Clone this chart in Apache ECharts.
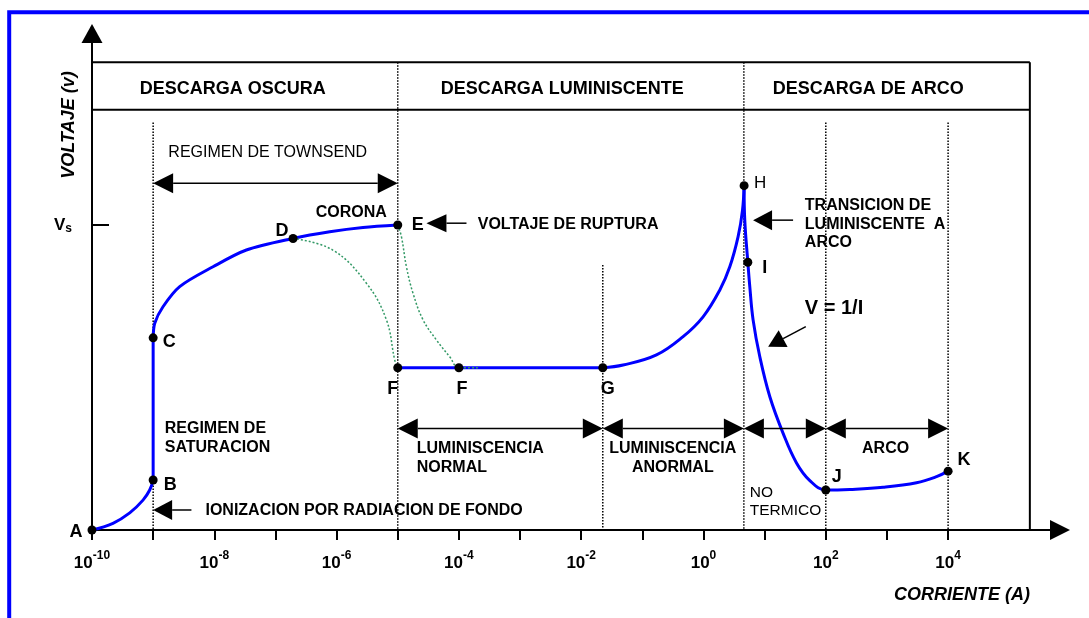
<!DOCTYPE html>
<html><head><meta charset="utf-8">
<script src="https://cdn.jsdelivr.net/npm/echarts@6/dist/echarts.min.js"></script>
<style>html,body{margin:0;padding:0;background:#fff}#c{width:1089px;height:618px}</style>
</head><body><div id="c"></div>
<script>
// ---------- DATA (x = log10 of current in A, y = voltage relative to Vs) ----------
const tickExponents = [-10,-9,-8,-7,-6,-5,-4,-3,-2,-1,0,1,2,3,4];
const labelExponents = [-10,-8,-6,-4,-2,0,2,4];
const vsLevel = [1];

const pointNames = ['A','B','C','D','E','F','F','G','H','I','J','K'];
const pointExp   = [-10, -9, -9, -6.712, -5, -5, -4, -1.647, 0.664, 0.725, 2, 4];
const pointV     = [0, 0.164, 0.630, 0.956, 1.0, 0.532, 0.532, 0.532, 1.129, 0.878, 0.131, 0.193];

const abExp = [-10, -9.657, -9.383, -9.166, -9.056, -9.0];
const abV   = [0, 0.022, 0.056, 0.098, 0.131, 0.164];
const bcExp = [-9, -9];
const bcV   = [0.164, 0.630];
const ceExp = [-9.0, -8.974, -8.839, -8.566, -8.021, -7.475, -6.712, -6.112, -5.568, -5.0];
const ceV   = [0.630, 0.678, 0.732, 0.798, 0.863, 0.918, 0.956, 0.978, 0.992, 1.0];
const fgExp = [-5, -1.647];
const fgV   = [0.532, 0.532];
const ghExp = [-1.647, -1.315, -0.769, -0.334, -0.007, 0.267, 0.43, 0.566, 0.638, 0.664];
const ghV   = [0.532, 0.541, 0.574, 0.634, 0.699, 0.787, 0.863, 0.962, 1.049, 1.129];
const hkExp = [0.664, 0.675, 0.725, 0.757, 0.811, 0.921, 1.085, 1.302, 1.521, 1.739, 2.0, 2.393, 2.937, 3.484, 3.811, 4.0];
const hkV   = [1.129, 1.016, 0.878, 0.798, 0.689, 0.568, 0.437, 0.317, 0.220, 0.162, 0.131, 0.133, 0.140, 0.155, 0.175, 0.193];

const green1Exp = [-6.712, -6.063, -5.512, -5.185, -5.049, -5.0];
const green1V   = [0.956, 0.918, 0.809, 0.689, 0.557, 0.532];
const green2Exp = [-5.0, -4.94, -4.858, -4.75, -4.586, -4.367, -4.15, -4.0, -3.69];
const green2V   = [1.0, 0.962, 0.863, 0.776, 0.689, 0.623, 0.568, 0.532, 0.532];

// ---------- ANNOTATION ANCHORS (in data space) ----------
const guideLines = [ // x1,y1,x2,y2,dotted
  [-10, 1.534, 5.337, 1.534, 0],
  [-10, 1.378, 5.337, 1.378, 0],
  [5.337, 1.534, 5.337, 0, 0],
  [-9, 1.336, -9, 0, 1],
  [-5, 1.534, -5, 0, 1],
  [-1.647, 0.869, -1.647, 0, 1],
  [0.66, 1.534, 0.66, 0, 1],
  [2, 1.336, 2, 0, 1],
  [4, 1.336, 4, 0, 1]
];
const arrowDefs = [ // x1,y1,x2,y2, headStart, headEnd, headLen, headWidth
  [-9, 1.137, -5, 1.137, 1, 1, 20, 20],
  [-5, 0.333, -1.647, 0.333, 1, 1, 20, 20],
  [-1.647, 0.333, 0.66, 0.333, 1, 1, 20, 20],
  [0.66, 0.333, 2, 0.333, 1, 1, 20, 20],
  [2, 0.333, 4, 0.333, 1, 1, 20, 20],
  [-3.876, 1.006, -4.531, 1.006, 0, 1, 20, 18],
  [-8.374, 0.0656, -9.0, 0.0656, 0, 1, 19, 20],
  [1.465, 1.016, 0.811, 1.016, 0, 1, 19, 20],
  [1.673, 0.667, 1.057, 0.601, 0, 1, 17, 19]
];
const FF = '"Liberation Sans", Arial, sans-serif';
const B16 = 'bold 16px ' + FF, B18 = 'bold 18px ' + FF, B20 = 'bold 20px ' + FF;
const N16 = '16px ' + FF, N15 = '15.5px ' + FF;
const notes = [
  ['DESCARGA OSCURA', -7.699, 1.446, B18, 'center', 20],
  ['DESCARGA LUMINISCENTE', -2.31, 1.446, B18, 'center', 20],
  ['DESCARGA DE ARCO', 2.695, 1.446, B18, 'center', 20],
  ['REGIMEN DE TOWNSEND', -7.126, 1.238, N16, 'center', 18],
  ['CORONA', -6.341, 1.041, B16, 'left', 18],
  ['VOLTAJE DE RUPTURA', -3.692, 1.003, B16, 'left', 18],
  ['REGIMEN DE\nSATURACION', -8.811, 0.301, B16, 'left', 18.5],
  ['IONIZACION POR RADIACION DE FONDO', -8.145, 0.0623, B16, 'left', 18],
  ['LUMINISCENCIA\nNORMAL', -4.689, 0.236, B16, 'left', 19],
  ['LUMINISCENCIA\nANORMAL', -0.502, 0.236, B16, 'center', 19],
  ['ARCO', 2.978, 0.266, B16, 'center', 18],
  ['NO\nTERMICO', 0.757, 0.092, N15, 'left', 17.5],
  ['TRANSICION DE\nLUMINISCENTE  A\nARCO', 1.657, 1.003, B16, 'left', 18.5],
  ['V = 1/I', 1.657, 0.726, B20, 'left', 22]
];
const pointLabelOffset = [[-16,2],[17,5],[16,4],[-11,-7],[20,0],[-5,21],[3,21],[5,21],[16,-2],[17,6],[11,-13],[16,-11]];

// ---------- BUILD ----------
const zip = (xs, ys) => xs.map((x, i) => [x, ys[i]]);
const BLUE = '#0000ff';
function curve(xs, ys, smooth) {
  return { type: 'line', data: zip(xs, ys), showSymbol: false, smooth: smooth, silent: true,
    lineStyle: { color: BLUE, width: 3, cap: 'round', join: 'round' }, z: 3 };
}
function greenCurve(xs, ys) {
  return { type: 'line', data: zip(xs, ys), showSymbol: false, smooth: 0.4, silent: true,
    lineStyle: { color: '#339966', width: 1.5, type: [2, 2] }, z: 4 };
}
function renderGuide(params, api) {
  const a = api.coord([api.value(0), api.value(1)]);
  const b = api.coord([api.value(2), api.value(3)]);
  const dotted = api.value(4) === 1;
  return { type: 'line', shape: { x1: a[0], y1: a[1], x2: b[0], y2: b[1] },
    style: { stroke: '#000', lineWidth: dotted ? 1.5 : 2, lineDash: dotted ? [1.5, 1.5] : null } };
}
function renderArrow(params, api) {
  const a = api.coord([api.value(0), api.value(1)]);
  const b = api.coord([api.value(2), api.value(3)]);
  const hs = api.value(4), he = api.value(5), hl = api.value(6), hw = api.value(7);
  const dx = b[0] - a[0], dy = b[1] - a[1], len = Math.hypot(dx, dy);
  const ux = dx / len, uy = dy / len, px = -uy, py = ux;
  const s = hs ? [a[0] + ux * hl, a[1] + uy * hl] : a;
  const e = he ? [b[0] - ux * hl, b[1] - uy * hl] : b;
  const children = [{ type: 'line', shape: { x1: s[0], y1: s[1], x2: e[0], y2: e[1] },
    style: { stroke: '#000', lineWidth: 1.5 } }];
  function head(tip, dirx, diry) {
    const bx = tip[0] - dirx * hl, by = tip[1] - diry * hl;
    return { type: 'polygon', shape: { points: [tip, [bx + px * hw / 2, by + py * hw / 2], [bx - px * hw / 2, by - py * hw / 2]] },
      style: { fill: '#000' } };
  }
  if (hs) children.push(head(a, -ux, -uy));
  if (he) children.push(head(b, ux, uy));
  return { type: 'group', children: children };
}
function renderNote(params, api) {
  const n = notes[params.dataIndex];
  const p = api.coord([api.value(0), api.value(1)]);
  return { type: 'text', x: p[0], y: p[1],
    style: { text: n[0], font: n[3], fill: '#000', align: n[4], verticalAlign: 'middle', lineHeight: n[5] } };
}

const chart = echarts.init(document.getElementById('c'), null, { renderer: 'canvas' });
const option = {
  animation: false,
  backgroundColor: '#fff',
  grid: { left: 92, right: 29, top: 33.5, bottom: 88, containLabel: false },
  xAxis: {
    type: 'value', min: -10, max: 5.83, interval: 1,
    splitLine: { show: false },
    axisLine: { onZero: false, symbol: ['none', 'triangle'], symbolSize: [20, 20], lineStyle: { color: '#000', width: 2 } },
    axisTick: { customValues: tickExponents, length: 10, lineStyle: { color: '#000', width: 2 } },
    axisLabel: {
      customValues: labelExponents, margin: 20,
      formatter: v => '{b|10}{s|' + v + '}',
      rich: {
        b: { fontSize: 17, fontWeight: 'bold', fontFamily: FF, color: '#000', lineHeight: 26 },
        s: { fontSize: 12, fontWeight: 'bold', fontFamily: FF, color: '#000', lineHeight: 12, verticalAlign: 'top' }
      }
    }
  },
  yAxis: {
    type: 'value', min: 0, max: 1.628,
    splitLine: { show: false },
    axisLine: { onZero: false, symbol: ['none', 'triangle'], symbolSize: [21, 19], lineStyle: { color: '#000', width: 2 } },
    axisTick: { customValues: vsLevel, inside: true, length: 17, lineStyle: { color: '#000', width: 2 } },
    axisLabel: {
      customValues: vsLevel, margin: 20,
      formatter: () => '{v|V}{s|s}',
      rich: {
        v: { fontSize: 17, fontWeight: 'bold', fontFamily: FF, color: '#000', lineHeight: 20 },
        s: { fontSize: 12, fontWeight: 'bold', fontFamily: FF, color: '#000', lineHeight: 12, verticalAlign: 'bottom' }
      }
    }
  },
  graphic: [
    { type: 'rect', shape: { x: 9.2, y: 12.3, width: 1300, height: 1000 }, style: { stroke: BLUE, lineWidth: 4, fill: 'none' }, silent: true },
    { type: 'text', x: 69.5, y: 125, rotation: Math.PI / 2,
      style: { text: 'VOLTAJE (v)', font: 'italic bold 18px ' + FF, fill: '#000', align: 'center', verticalAlign: 'middle' } },
    { type: 'text', x: 1030, y: 595,
      style: { text: 'CORRIENTE (A)', font: 'italic bold 18px ' + FF, fill: '#000', align: 'right', verticalAlign: 'middle' } }
  ],
  series: [
    { type: 'custom', renderItem: renderGuide, data: guideLines, encode: { x: [0, 2], y: [1, 3] }, silent: true, clip: false, z: 1 },
    curve(abExp, abV, 0.4),
    curve(bcExp, bcV, false),
    curve(ceExp, ceV, 0.3),
    curve(fgExp, fgV, false),
    curve(ghExp, ghV, 0.4),
    curve(hkExp, hkV, 0.4),
    greenCurve(green1Exp, green1V),
    greenCurve(green2Exp, green2V),
    { type: 'custom', renderItem: renderArrow, data: arrowDefs, encode: { x: [0, 2], y: [1, 3] }, silent: true, clip: false, z: 5 },
    { type: 'custom', renderItem: renderNote, data: notes.map(n => [n[1], n[2]]), encode: { x: 0, y: 1 }, silent: true, clip: false, z: 6 },
    { type: 'scatter', silent: true, z: 7, symbol: 'circle', symbolSize: 9,
      itemStyle: { color: '#000', opacity: 1 },
      emphasis: { disabled: true },
      data: pointNames.map((n, i) => ({
        name: n, value: [pointExp[i], pointV[i]],
        label: { show: true, position: 'inside', offset: pointLabelOffset[i], formatter: '{b}', opacity: 1,
          color: '#000', fontFamily: FF, fontSize: n === 'H' ? 17 : 18, fontWeight: n === 'H' ? 'normal' : 'bold' }
      }))
    }
  ]
};
chart.setOption(option);
</script></body></html>
